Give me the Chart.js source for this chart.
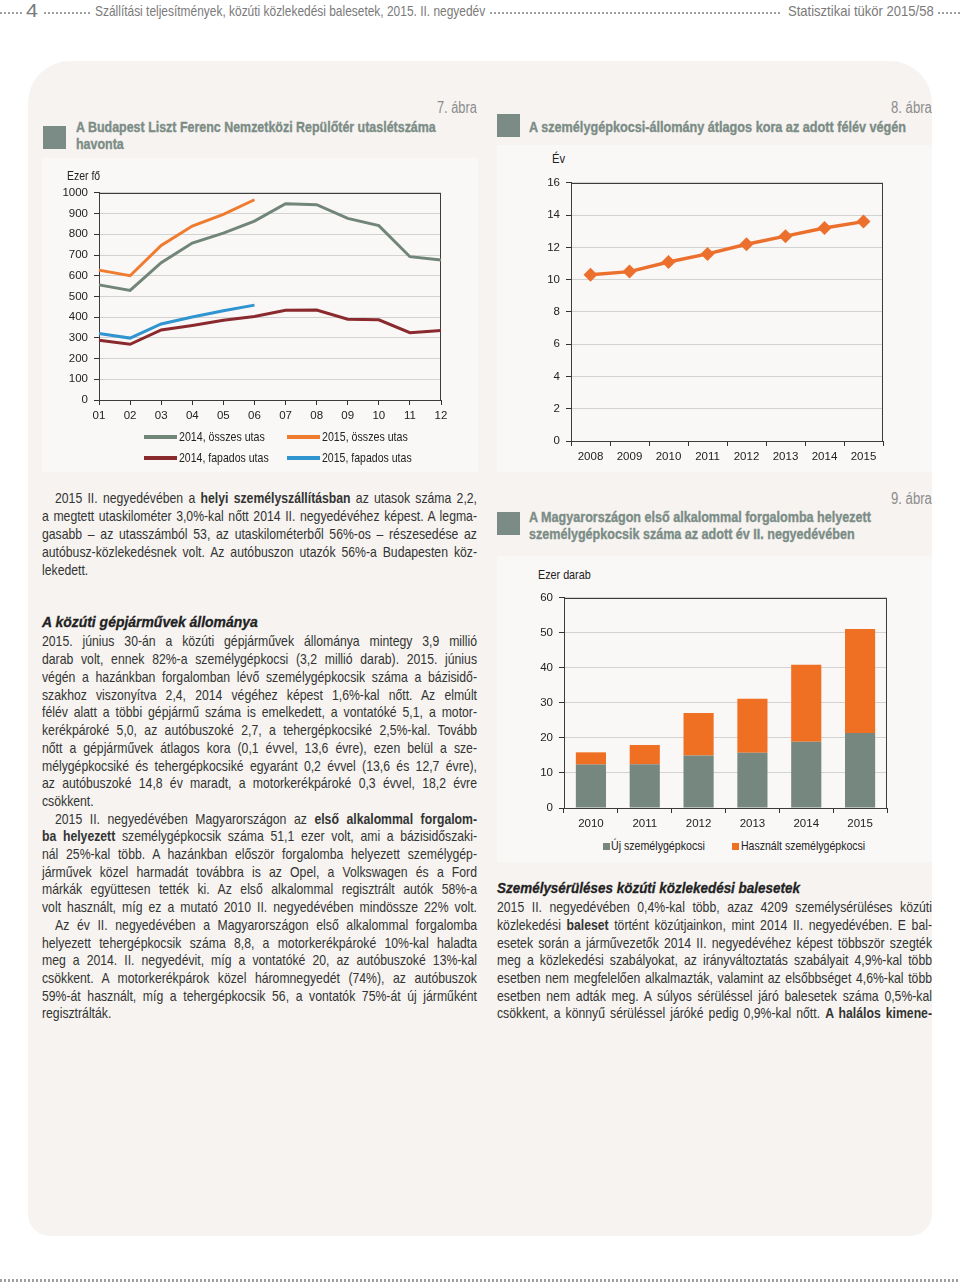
<!DOCTYPE html>
<html><head><meta charset="utf-8">
<script src="https://cdn.jsdelivr.net/npm/chart.js@4.4.0/dist/chart.umd.min.js"></script>
<style>
body{margin:0;width:960px;height:1286px;background:#fff;position:relative;overflow:hidden;
 font-family:"Liberation Sans",Arial,sans-serif;color:#333}
.t{position:absolute;white-space:nowrap;transform-origin:0 50%}
.dots{position:absolute;height:2px;background:repeating-linear-gradient(90deg,#a0a0a0 0 1.6px,transparent 1.6px 4px)}
.hdr{font-size:15px;color:#7a7a7a;line-height:20px}
.panel{position:absolute;left:28px;top:61px;width:904px;height:1175px;background:#f6f3f0;border-radius:42px 42px 22px 22px}
.box{position:absolute;background:#faf8f6}
.sq{position:absolute;width:23px;height:23px;background:#7b8c86}
.ttl{color:#7b8c86;font-weight:bold;font-size:15px;line-height:18px;-webkit-text-stroke:0.35px #7b8c86}
.abra{color:#8c8c8c;font-size:16px;line-height:18px}
.unit{font-size:13px;color:#222;line-height:14px}
.ln{font-size:15px;line-height:18px;height:18px;color:#333;text-align:justify;text-align-last:justify}
.h{font-size:15.5px;font-weight:bold;font-style:italic;color:#222;line-height:18px;-webkit-text-stroke:0.3px #222}
.lg{font-size:13px;color:#222;line-height:14px}
.lgl{position:absolute;height:4px}
.lgs{position:absolute;width:7px;height:7px}
canvas{position:absolute}
</style></head>
<body>
<div class="dots" style="left:0;top:12px;width:22px"></div>
<div class="dots" style="left:44px;top:12px;width:48px"></div>
<div class="dots" style="left:490px;top:12px;width:290px"></div>
<div class="dots" style="left:938px;top:12px;width:22px"></div>
<div class="dots" style="left:0;top:1279px;width:960px;height:3px"></div>

<div class="panel"></div>
<div class="sq" style="left:43px;top:126px"></div>
<div class="box" style="left:42px;top:158px;width:436px;height:314px"></div>
<canvas id="c7" width="436" height="250" style="left:42px;top:180px"></canvas>
<div class="lgl" style="left:144px;top:435px;width:33px;background:#718579"></div>
<div class="lgl" style="left:287px;top:435px;width:33px;background:#ef7b2f"></div>
<div class="lgl" style="left:144px;top:456px;width:33px;background:#8a2a2e"></div>
<div class="lgl" style="left:287px;top:456px;width:33px;background:#2f94d0"></div>

<div class="sq" style="left:497px;top:114px"></div>
<div class="box" style="left:497px;top:145px;width:435px;height:327px"></div>
<canvas id="c8" width="435" height="300" style="left:497px;top:170px"></canvas>

<div class="sq" style="left:497px;top:512px"></div>
<div class="box" style="left:497px;top:556px;width:435px;height:306px"></div>
<canvas id="c9" width="435" height="250" style="left:497px;top:585px"></canvas>
<div class="lgs" style="left:603px;top:843px;background:#76877f"></div>
<div class="lgs" style="left:732px;top:843px;background:#f07023"></div>

<script>
// ---- data ----
const months = ['01','02','03','04','05','06','07','08','09','10','11','12'];
const total2014 = [556,529,663,758,806,864,948,943,877,842,692,676];
const total2015 = [627,600,746,840,896,967];
const lowcost2014 = [289,269,338,360,385,403,433,434,390,387,325,336];
const lowcost2015 = [321,299,367,401,431,458];
const ageYears = ['2008','2009','2010','2011','2012','2013','2014','2015'];
const avgAge = [10.3,10.5,11.1,11.6,12.2,12.7,13.2,13.6];
const regYears = ['2010','2011','2012','2013','2014','2015'];
const newCars = [12.4,12.5,15.0,15.8,18.9,21.4];
const usedCars = [3.5,5.5,12.1,15.4,22.0,29.7];

// ---- text helpers ----
function put(cls, x, yc, html, w, sc){
  const d=document.createElement('div');
  d.className='t '+cls; d.innerHTML=html; document.body.appendChild(d);
  const nat=d.offsetWidth, h=d.offsetHeight;
  d.style.left=x+'px'; d.style.top=(yc-h/2)+'px';
  const s = sc || (w ? w/nat : 0);
  if(s){ d.style.transform='scaleX('+s+')'; }
  d._s=s; return d;
}
function putR(cls, xr, yc, html, w){
  const d=put(cls,0,yc,html,w); d.style.left=(xr-w)+'px'; return d;
}
const S=0.815;
function putLines(arr, x0, W){
  arr.forEach(([yc,k,t])=>{
    const ind=k==='i'?13:0, target=W-ind;
    const d=document.createElement('div');
    d.className='t ln'; d.innerHTML=t; document.body.appendChild(d);
    const nat=d.offsetWidth;
    d.style.left=(x0+ind)+'px'; d.style.top=(yc-9)+'px';
    if(k==='l'){ d.style.transform='scaleX('+S+')'; }
    else if(nat*S<=target){ d.style.whiteSpace='normal'; d.style.width=(target/S)+'px'; d.style.transform='scaleX('+S+')'; }
    else { d.style.transform='scaleX('+(target/nat)+')'; }
  });
}

// header
put('hdr',26,11,'4',9).style.fontSize='19px';
put('hdr',95,11,'Szállítási teljesítmények, közúti közlekedési balesetek, 2015. II. negyedév',390);
put('hdr',788,11,'Statisztikai tükör 2015/58',146);

// chart 7 texts
putR('abra',477,108,'7. ábra',40);
const t7=put('ttl',76,127,'A Budapest Liszt Ferenc Nemzetközi Repülőtér utaslétszáma',360);
put('ttl',76,144,'havonta',0,t7._s);
put('unit',67,176,'Ezer fő',33);
put('lg',179,437,'2014, összes utas',86);
put('lg',322,437,'2015, összes utas',86);
put('lg',179,458,'2014, fapados utas',90);
put('lg',322,458,'2015, fapados utas',90);

// chart 8 texts
putR('abra',932,108,'8. ábra',41);
put('ttl',529,127,'A személygépkocsi-állomány átlagos kora az adott félév végén',377);
put('unit',552,159,'Év',13);

// chart 9 texts
putR('abra',932,499,'9. ábra',41);
put('ttl',529,517,'A Magyarországon első alkalommal forgalomba helyezett',342);
put('ttl',529,534,'személygépkocsik száma az adott év II. negyedévében',326);
put('unit',538,575,'Ezer darab',53);
put('lg',611,846,'Új személygépkocsi',94);
put('lg',741,846,'Használt személygépkocsi',124);

// body text
const leftLines = [
 [498,'i','2015 II. negyedévében a <b>helyi személyszállításban</b> az utasok száma 2,2,'],
 [516,'','a megtett utaskilométer 3,0%-kal nőtt 2014 II. negyedévéhez képest. A legma-'],
 [534,'','gasabb – az utasszámból 53, az utaskilométerből 56%-os – részesedése az'],
 [552,'','autóbusz-közlekedésnek volt. Az autóbuszon utazók 56%-a Budapesten köz-'],
 [570,'l','lekedett.'],
 [641,'','2015. június 30-án a közúti gépjárművek állománya mintegy 3,9 millió'],
 [659,'','darab volt, ennek 82%-a személygépkocsi (3,2 millió darab). 2015. június'],
 [677,'','végén a hazánkban forgalomban lévő személygépkocsik száma a bázisidő-'],
 [694.5,'','szakhoz viszonyítva 2,4, 2014 végéhez képest 1,6%-kal nőtt. Az elmúlt'],
 [712,'','félév alatt a többi gépjármű száma is emelkedett, a vontatóké 5,1, a motor-'],
 [730,'','kerékpároké 5,0, az autóbuszoké 2,7, a tehergépkocsiké 2,5%-kal. Tovább'],
 [748,'','nőtt a gépjárművek átlagos kora (0,1 évvel, 13,6 évre), ezen belül a sze-'],
 [765.5,'','mélygépkocsiké és tehergépkocsiké egyaránt 0,2 évvel (13,6 és 12,7 évre),'],
 [783,'','az autóbuszoké 14,8 év maradt, a motorkerékpároké 0,3 évvel, 18,2 évre'],
 [801,'l','csökkent.'],
 [818.5,'i','2015 II. negyedévében Magyarországon az <b>első alkalommal forgalom-</b>'],
 [836,'','<b>ba helyezett</b> személygépkocsik száma 51,1 ezer volt, ami a bázisidőszaki-'],
 [854,'','nál 25%-kal több. A hazánkban először forgalomba helyezett személygép-'],
 [871.5,'','járművek közel harmadát továbbra is az Opel, a Volkswagen és a Ford'],
 [889,'','márkák együttesen tették ki. Az első alkalommal regisztrált autók 58%-a'],
 [907,'','volt használt, míg ez a mutató 2010 II. negyedévében mindössze 22% volt.'],
 [925,'i','Az év II. negyedévében a Magyarországon első alkalommal forgalomba'],
 [942.5,'','helyezett tehergépkocsik száma 8,8, a motorkerékpároké 10%-kal haladta'],
 [960,'','meg a 2014. II. negyedévit, míg a vontatóké 20, az autóbuszoké 13%-kal'],
 [978,'','csökkent. A motorkerékpárok közel háromnegyedét (74%), az autóbuszok'],
 [995.5,'','59%-át használt, míg a tehergépkocsik 56, a vontatók 75%-át új járműként'],
 [1013,'l','regisztrálták.']
];
const rightLines = [
 [907,'','2015 II. negyedévében 0,4%-kal több, azaz 4209 személysérüléses közúti'],
 [925,'','közlekedési <b>baleset</b> történt közútjainkon, mint 2014 II. negyedévében. E bal-'],
 [942.5,'','esetek során a járművezetők 2014 II. negyedévéhez képest többször szegték'],
 [960,'','meg a közlekedési szabályokat, az irányváltoztatás szabályait 4,9%-kal több'],
 [978,'','esetben nem megfelelően alkalmazták, valamint az elsőbbséget 4,6%-kal több'],
 [995.5,'','esetben nem adták meg. A súlyos sérüléssel járó balesetek száma 0,5%-kal'],
 [1013,'','csökkent, a könnyű sérüléssel járóké pedig 0,9%-kal nőtt. <b>A halálos kimene-</b>']
];
putLines(leftLines,42,435);
putLines(rightLines,497,435);
put('h',42,622,'A közúti gépjárművek állománya',216);
put('h',497,888,'Személysérüléses közúti közlekedési balesetek',303);

// ---- charts ----
Chart.defaults.font.family='"Liberation Sans",Arial,sans-serif';
Chart.defaults.font.size=11.5;
Chart.defaults.color='#222';
Chart.defaults.animation=false;
Chart.defaults.devicePixelRatio=1;

const frame={id:'frame',beforeDatasetsDraw(c){const {left,top,right,bottom}=c.chartArea;const x=c.ctx;x.save();x.strokeStyle='#3c3c3c';x.lineWidth=1;x.strokeRect(Math.round(left)+0.5,Math.round(top)+0.5,Math.round(right-left)-1,Math.round(bottom-top));x.restore();}};

function yScale(min,max,step,w){return {min,max,ticks:{stepSize:step,padding:6,color:'#222',callback:v=>String(v)},grid:{color:'#d2d2d2',tickColor:'#333',tickLength:5},border:{color:'#333'},afterFit(s){s.width=w;}};}
function xScale(offset,h){return {offset,ticks:{maxRotation:0,autoSkip:false,padding:4,color:'#222'},grid:{offset,drawOnChartArea:false,tickColor:'#333',tickLength:5},border:{color:'#333'},afterFit(s){s.height=h;}};}

new Chart(document.getElementById('c7'),{
  type:'line',
  data:{labels:months,datasets:[
    {label:'2014, összes utas',data:total2014,borderColor:'#718579'},
    {label:'2015, összes utas',data:total2015,borderColor:'#ef7b2f'},
    {label:'2014, fapados utas',data:lowcost2014,borderColor:'#8a2a2e'},
    {label:'2015, fapados utas',data:lowcost2015,borderColor:'#2f94d0'}
  ].map(d=>Object.assign(d,{borderWidth:3,pointRadius:0,tension:0,fill:false}))},
  options:{responsive:false,layout:{padding:{left:0,right:37,top:9,bottom:0}},
    plugins:{legend:{display:false},tooltip:{enabled:false}},
    scales:{x:xScale(false,30),y:yScale(0,1000,100,57)}},
  plugins:[frame]
});

new Chart(document.getElementById('c8'),{
  type:'line',
  data:{labels:ageYears,datasets:[{label:'Átlagos kor',data:avgAge,borderColor:'#ec702d',backgroundColor:'#ec702d',borderWidth:3.5,
    pointStyle:'rectRot',pointRadius:7,pointBorderWidth:0,pointBackgroundColor:'#ec702d',tension:0}]},
  options:{responsive:false,layout:{padding:{left:0,right:49,top:11,bottom:0}},
    plugins:{legend:{display:false},tooltip:{enabled:false}},
    scales:{x:xScale(true,29),y:yScale(0,16,2,74)}},
  plugins:[frame]
});

new Chart(document.getElementById('c9'),{
  type:'bar',
  data:{labels:regYears,datasets:[
    {label:'Új személygépkocsi',data:newCars,backgroundColor:'#76877f'},
    {label:'Használt személygépkocsi',data:usedCars,backgroundColor:'#f07023'}
  ].map(d=>Object.assign(d,{barPercentage:0.56,categoryPercentage:1,borderWidth:0}))},
  options:{responsive:false,layout:{padding:{left:0,right:45,top:9,bottom:0}},
    plugins:{legend:{display:false},tooltip:{enabled:false}},
    scales:{x:Object.assign(xScale(true,27),{stacked:true}),y:Object.assign(yScale(0,60,10,67),{stacked:true})}},
  plugins:[frame]
});
</script>
</body></html>
